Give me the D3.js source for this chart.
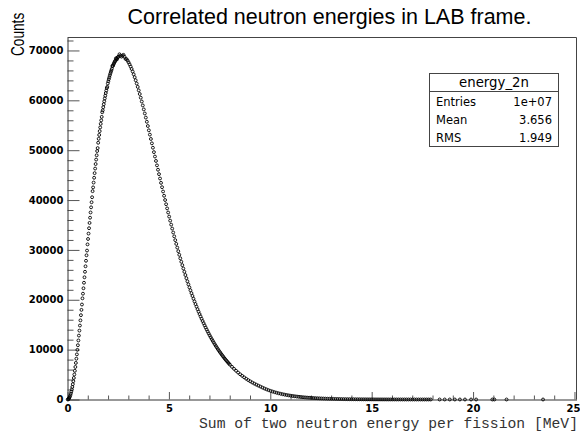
<!DOCTYPE html>
<html><head><meta charset="utf-8">
<script src="https://cdn.jsdelivr.net/npm/d3@7"></script>
<style>html,body{margin:0;padding:0;background:#fff;} svg{display:block;}</style>
</head><body>
<svg id="c" width="580" height="434"></svg>
<script>
// ---------- data ----------
const titleText = "Correlated neutron energies in LAB frame.";
const xTitle = "Sum of two neutron energy per fission [MeV]";
const yTitle = "Counts";
const xMajorTicks = [0, 5, 10, 15, 20, 25];
const yMajorTicks = [0, 10000, 20000, 30000, 40000, 50000, 60000, 70000];
const xDomain = [0, 25.1];
const yDomain = [0, 72600];
const statsName = "energy_2n";
const statsLabels = ["Entries", "Mean", "RMS"];
const statsValues = ["1e+07", "3.656", "1.949"];

// bin centres: fine region (0 - 2.5 MeV)
const fineStart = 0.0125, fineStep = 0.025;
const countsFine = [
5, 51, 154, 316, 539, 821, 1161, 1559, 2011, 2516,
3072, 3676, 4324, 5017, 5753, 6526, 7335, 8178, 9052, 9955,
10885, 11840, 12819, 13816, 14834, 15867, 16914, 17973, 19048, 20290,
21219, 22309, 23411, 24511, 25613, 26717, 27821, 28922, 29870, 31107,
32193, 33276, 34352, 35411, 36460, 37510, 38541, 39563, 40565, 41780,
42538, 43507, 44466, 45396, 46313, 47220, 48112, 48976, 49830, 50420,
51486, 52281, 53060, 53819, 54567, 55286, 55987, 56680, 57610, 57992,
58622, 59217, 59800, 60377, 60922, 61461, 61961, 62452, 62700, 63383,
63816, 64239, 64619, 65008, 65366, 65707, 66030, 66341, 66880, 66893,
67142, 67377, 67606, 67796, 67973, 68420, 68307, 68210, 68560, 68670
];
// mid region (2.5 - 8 MeV)
const midStart = 2.5125, midStep = 0.05;
const countsMid = [
68758, 69230, 68975, 68760, 68965, 69120, 68725, 68300, 68266, 67962,
67610, 67214, 66774, 66295, 65778, 65223, 64636, 64018, 63370, 62696,
61996, 61271, 60526, 59761, 58977, 58178, 57363, 56535, 55696, 54847,
53987, 53122, 52250, 51373, 50493, 49611, 48726, 47843, 46958, 46076,
45198, 44321, 43447, 42579, 41716, 40858, 40008, 39163, 38327, 37499,
36678, 35868, 35067, 34275, 33493, 32722, 31960, 31210, 30470, 29742,
29025, 28320, 27626, 26943, 26272, 25613, 24966, 24331, 23707, 23095,
22496, 21907, 21330, 20766, 20213, 19671, 19141, 18622, 18114, 17618,
17132, 16657, 16194, 15740, 15298, 14866, 14444, 14032, 13630, 13238,
12855, 12482, 12118, 11763, 11418, 11081, 10752, 10433, 10121, 9818,
9523, 9235, 8955, 8683, 8418, 8160, 7910, 7667, 7430, 7200
];
// tail region (8 - 18 MeV)
const tailStart = 8.0125, tailStep = 0.1;
const countsTail = [
6976, 6547, 6142, 5760, 5400, 5061, 4741, 4440, 4156, 3889,
3639, 3403, 3182, 2974, 2779, 2592, 2393, 2207, 2036, 1877,
1730, 1595, 1470, 1354, 1247, 1148, 1057, 973, 895, 824,
758, 697, 641, 589, 541, 496, 455, 418, 384, 353,
324, 297, 273, 250, 229, 210, 193, 177, 162, 149,
136, 125, 114, 105, 96, 88, 80, 74, 67, 62,
56, 52, 47, 43, 40, 36, 33, 30, 28, 25,
23, 21, 19, 18, 16, 15, 13, 12, 11, 10,
9, 9, 8, 7, 7, 6, 5, 5, 5, 4,
4, 4, 3, 3, 3, 3, 2, 2, 2, 2
];
// isolated entries far in the tail
const sparseEnergy = [18.35, 18.6, 18.85, 19.1, 19.35, 19.6, 19.9, 20.15, 20.95, 21.05, 21.65, 23.45];
const sparseCounts = [1, 1, 1, 1, 1, 1, 1, 1, 1, 1, 1, 1];

// ---------- drawing ----------
const svg = d3.select("#c");
const L = 67.5, R = 576.5, T = 37.5, B = 399.5;
const x = d3.scaleLinear().domain(xDomain).range([L, R]);
const y = d3.scaleLinear().domain(yDomain).range([B, T]);

const points = [];
countsFine.forEach((c, i) => points.push({e: fineStart + i * fineStep, c}));
countsMid.forEach((c, i) => points.push({e: midStart + i * midStep, c}));
countsTail.forEach((c, i) => points.push({e: tailStart + i * tailStep, c}));
sparseEnergy.forEach((e, i) => points.push({e, c: sparseCounts[i]}));

// frame (top/right)
svg.append("path")
  .attr("d", `M${L},${T}H${R}V${B}`)
  .attr("fill", "none").attr("stroke", "#444").attr("stroke-width", 1);

const tickFont = "'DejaVu Sans', sans-serif";

// y minor ticks
const yMinor = d3.range(0, 72001, 2000).filter(v => v % 10000 !== 0);
svg.append("g").attr("transform", `translate(${L},0)`)
  .call(d3.axisLeft(y).tickValues(yMinor).tickSize(-6).tickFormat(""))
  .call(g => g.select(".domain").remove())
  .call(g => g.selectAll("line").attr("stroke", "#555"));
// y major
svg.append("g").attr("transform", `translate(${L},0)`)
  .call(d3.axisLeft(y).tickValues(yMajorTicks).tickSizeInner(-12).tickSizeOuter(0).tickPadding(4).tickFormat(d3.format("d")))
  .call(g => g.select(".domain").attr("stroke", "#333"))
  .call(g => g.selectAll("line").attr("stroke", "#555"))
  .call(g => g.selectAll("text").attr("font-family", tickFont).attr("font-weight", "bold").attr("font-size", "10px").attr("fill", "#000"));

// x minor
const xMinor = d3.range(1, 25, 1).filter(v => v % 5 !== 0);
svg.append("g").attr("transform", `translate(0,${B})`)
  .call(d3.axisBottom(x).tickValues(xMinor).tickSize(-4).tickFormat(""))
  .call(g => g.select(".domain").remove())
  .call(g => g.selectAll("line").attr("stroke", "#555"));
// x major
svg.append("g").attr("transform", `translate(0,${B})`)
  .call(d3.axisBottom(x).tickValues(xMajorTicks).tickSizeInner(-7.5).tickSizeOuter(0).tickPadding(5.5).tickFormat(d3.format("d")))
  .call(g => g.select(".domain").attr("stroke", "#333"))
  .call(g => g.selectAll("line").attr("stroke", "#555"))
  .call(g => g.selectAll("text").attr("font-family", tickFont).attr("font-weight", "bold").attr("font-size", "10px").attr("fill", "#000"))
  .call(g => g.selectAll("text").filter(d => d === 25).attr("dx", "-1.5"));

// markers
svg.append("g").selectAll("circle").data(points).join("circle")
  .attr("cx", d => x(d.e)).attr("cy", d => y(d.c))
  .attr("r", 1.45).attr("fill", "none").attr("stroke", "#000").attr("stroke-width", 0.9);

// title
svg.append("text").attr("x", 329.5).attr("y", 23.5).attr("text-anchor", "middle")
  .attr("font-family", "'Liberation Sans', Arial, sans-serif").attr("font-size", "21.5px").attr("fill", "#000")
  .text(titleText);

// x title
svg.append("text").attr("x", 578).attr("y", 428).attr("text-anchor", "end")
  .attr("font-family", "'Liberation Mono', 'Courier New', monospace").attr("font-size", "14.7px").attr("fill", "#333")
  .text(xTitle);

// y title
svg.append("text").attr("transform", "translate(23.5,56) rotate(-90) scale(0.78,1)")
  .attr("text-anchor", "start")
  .attr("font-family", "'Liberation Sans', Arial, sans-serif").attr("font-size", "17.5px").attr("fill", "#000")
  .text(yTitle);

// stats box
const sb = {x: 429.5, y: 73.5, w: 129, h: 73, head: 18};
const sg = svg.append("g");
sg.append("rect").attr("x", sb.x).attr("y", sb.y).attr("width", sb.w).attr("height", sb.h)
  .attr("fill", "#fff").attr("stroke", "#444").attr("stroke-width", 1);
sg.append("line").attr("x1", sb.x).attr("x2", sb.x + sb.w).attr("y1", sb.y + sb.head).attr("y2", sb.y + sb.head)
  .attr("stroke", "#444").attr("stroke-width", 1);
sg.append("text").attr("x", sb.x + sb.w / 2).attr("y", 87).attr("text-anchor", "middle")
  .attr("font-family", tickFont).attr("font-size", "13.3px").attr("fill", "#000").text(statsName);
const rowY = [105.7, 124, 141.7];
statsLabels.forEach((lab, i) => {
  sg.append("text").attr("x", 436).attr("y", rowY[i])
    .attr("font-family", tickFont).attr("font-size", "11.5px").attr("fill", "#000").text(lab);
  sg.append("text").attr("x", 552).attr("y", rowY[i]).attr("text-anchor", "end")
    .attr("font-family", tickFont).attr("font-size", "11.5px").attr("fill", "#000").text(statsValues[i]);
});
</script>
</body></html>
